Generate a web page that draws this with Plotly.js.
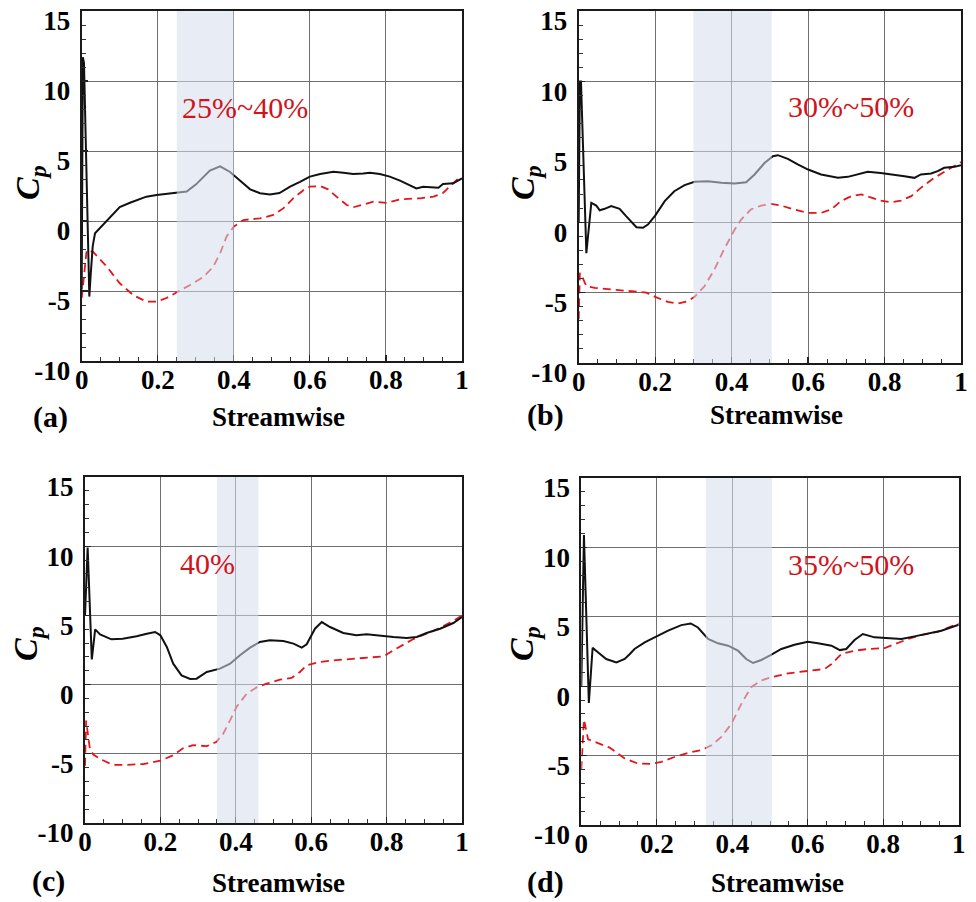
<!DOCTYPE html>
<html>
<head>
<meta charset="utf-8">
<script src="https://cdn.plot.ly/plotly-3.0.1.min.js"></script>
<style>
  html, body { margin: 0; padding: 0; background: #ffffff; }
  #chart { width: 976px; height: 902px; }
</style>
</head>
<body>
<div id="chart"></div>
<script>
// ---- Surface pressure coefficient along the chord, four cases ----

// Case (a)
const pressureX_a = [0, 0.003, 0.006, 0.02, 0.024, 0.029, 0.035, 0.048, 0.075, 0.1, 0.127, 0.17, 0.197, 0.25, 0.276, 0.3, 0.337, 0.364, 0.39, 0.416, 0.443, 0.469, 0.495, 0.52, 0.548, 0.574, 0.6, 0.627, 0.662, 0.688, 0.714, 0.74, 0.758, 0.784, 0.81, 0.837, 0.863, 0.88, 0.898, 0.925, 0.938, 0.95, 0.977, 1.0];
const pressureCp_a = [-4.9, 11.7, 11.3, -5.4, -3.7, -1.8, -0.88, -0.5, 0.31, 1.0, 1.3, 1.74, 1.86, 2.0, 2.1, 2.6, 3.6, 3.9, 3.5, 2.9, 2.26, 1.98, 1.9, 2.0, 2.45, 2.8, 3.17, 3.36, 3.52, 3.45, 3.36, 3.4, 3.45, 3.36, 3.17, 2.88, 2.57, 2.33, 2.45, 2.38, 2.38, 2.64, 2.69, 3.05];
const suctionX_a = [0, 0.013, 0.03, 0.066, 0.1, 0.136, 0.17, 0.197, 0.223, 0.25, 0.285, 0.32, 0.346, 0.364, 0.381, 0.4, 0.425, 0.469, 0.504, 0.53, 0.556, 0.583, 0.6, 0.627, 0.648, 0.67, 0.697, 0.714, 0.74, 0.767, 0.802, 0.837, 0.89, 0.925, 0.95, 0.968, 0.986, 1.0];
const suctionCp_a = [-5.5, -2.1, -2.2, -3.26, -4.45, -5.3, -5.76, -5.76, -5.5, -5.1, -4.57, -4.0, -3.26, -2.3, -1.1, -0.4, 0.07, 0.19, 0.43, 0.9, 1.62, 2.2, 2.45, 2.5, 2.26, 1.74, 1.14, 0.98, 1.2, 1.38, 1.3, 1.55, 1.62, 1.74, 2.0, 2.45, 2.93, 3.15];

// Case (b)
const pressureX_b = [0, 0.003, 0.006, 0.02, 0.033, 0.046, 0.055, 0.068, 0.085, 0.107, 0.124, 0.14, 0.151, 0.168, 0.181, 0.2, 0.225, 0.25, 0.277, 0.303, 0.338, 0.373, 0.408, 0.438, 0.46, 0.486, 0.508, 0.521, 0.547, 0.573, 0.6, 0.634, 0.678, 0.704, 0.73, 0.756, 0.79, 0.826, 0.852, 0.878, 0.895, 0.922, 0.939, 0.956, 0.983, 1.0];
const pressureCp_b = [0, 10.0, 10.0, -2.2, 1.38, 1.18, 0.85, 0.95, 1.14, 0.95, 0.43, -0.05, -0.36, -0.4, -0.17, 0.47, 1.5, 2.2, 2.63, 2.87, 2.91, 2.8, 2.75, 2.84, 3.39, 4.2, 4.69, 4.76, 4.5, 4.1, 3.74, 3.39, 3.15, 3.22, 3.39, 3.58, 3.5, 3.39, 3.27, 3.15, 3.39, 3.46, 3.63, 3.86, 3.93, 4.05];
const suctionX_b = [0, 0.003, 0.008, 0.02, 0.042, 0.094, 0.146, 0.177, 0.2, 0.233, 0.26, 0.286, 0.303, 0.329, 0.355, 0.38, 0.408, 0.425, 0.45, 0.477, 0.503, 0.53, 0.564, 0.6, 0.634, 0.66, 0.686, 0.713, 0.739, 0.765, 0.79, 0.817, 0.843, 0.87, 0.895, 0.93, 0.965, 1.0];
const suctionCp_b = [-6.9, -3.6, -3.8, -4.55, -4.67, -4.79, -4.9, -5.0, -5.3, -5.66, -5.78, -5.6, -5.3, -4.55, -3.36, -1.94, -0.52, 0.19, 0.9, 1.18, 1.3, 1.18, 0.9, 0.66, 0.66, 0.9, 1.5, 1.85, 1.97, 1.73, 1.54, 1.42, 1.54, 1.85, 2.44, 3.15, 3.74, 4.27];

// Case (c)
const pressureX_c = [0, 0.007, 0.018, 0.027, 0.04, 0.07, 0.1, 0.137, 0.164, 0.186, 0.2, 0.217, 0.234, 0.256, 0.279, 0.296, 0.323, 0.358, 0.385, 0.411, 0.438, 0.464, 0.49, 0.526, 0.553, 0.575, 0.588, 0.61, 0.628, 0.65, 0.685, 0.72, 0.747, 0.783, 0.818, 0.853, 0.88, 0.906, 0.942, 0.977, 1.0];
const pressureCp_c = [5.0, 9.9, 1.82, 3.99, 3.63, 3.27, 3.32, 3.49, 3.68, 3.8, 3.56, 2.72, 1.51, 0.67, 0.41, 0.43, 0.91, 1.15, 1.51, 2.12, 2.67, 3.08, 3.2, 3.15, 2.96, 2.67, 2.91, 4.04, 4.52, 4.16, 3.73, 3.56, 3.63, 3.51, 3.44, 3.37, 3.44, 3.73, 4.04, 4.45, 4.88];
const suctionX_c = [0, 0.003, 0.013, 0.022, 0.04, 0.066, 0.08, 0.11, 0.155, 0.2, 0.234, 0.26, 0.287, 0.323, 0.349, 0.367, 0.385, 0.402, 0.429, 0.455, 0.482, 0.517, 0.548, 0.57, 0.588, 0.623, 0.659, 0.712, 0.765, 0.792, 0.818, 0.844, 0.871, 0.906, 0.942, 0.977, 1.0];
const suctionCp_c = [-5.87, -2.6, -4.66, -5.05, -5.38, -5.7, -5.8, -5.8, -5.74, -5.5, -5.1, -4.6, -4.37, -4.45, -4.13, -3.53, -2.57, -1.61, -0.65, -0.2, 0.07, 0.36, 0.48, 0.91, 1.39, 1.63, 1.75, 1.87, 1.95, 2.04, 2.48, 2.9, 3.29, 3.68, 4.11, 4.6, 5.0];

// Case (d)
const pressureX_d = [0, 0.007, 0.02, 0.03, 0.044, 0.058, 0.066, 0.093, 0.115, 0.128, 0.141, 0.168, 0.194, 0.23, 0.265, 0.29, 0.309, 0.336, 0.362, 0.389, 0.415, 0.437, 0.455, 0.477, 0.504, 0.53, 0.565, 0.6, 0.627, 0.663, 0.685, 0.702, 0.724, 0.746, 0.777, 0.813, 0.848, 0.883, 0.919, 0.954, 1.0];
const pressureCp_d = [0, 10.9, -1.2, 2.76, 2.44, 2.15, 1.96, 1.72, 1.96, 2.3, 2.68, 3.16, 3.52, 4.0, 4.4, 4.52, 4.23, 3.4, 3.09, 2.92, 2.56, 1.96, 1.67, 1.89, 2.27, 2.68, 2.99, 3.2, 3.09, 2.92, 2.6, 2.68, 3.33, 3.76, 3.52, 3.44, 3.4, 3.59, 3.8, 4.0, 4.43];
const suctionX_d = [0, 0.007, 0.018, 0.04, 0.075, 0.115, 0.15, 0.186, 0.212, 0.247, 0.283, 0.318, 0.345, 0.371, 0.398, 0.424, 0.45, 0.477, 0.504, 0.548, 0.6, 0.645, 0.663, 0.689, 0.724, 0.76, 0.804, 0.83, 0.866, 0.9, 0.945, 1.0];
const suctionCp_d = [-5.98, -2.4, -3.83, -4.07, -4.42, -5.2, -5.57, -5.6, -5.45, -5.1, -4.8, -4.6, -4.26, -3.66, -2.7, -1.27, -0.07, 0.41, 0.65, 0.93, 1.12, 1.24, 1.6, 2.32, 2.56, 2.68, 2.75, 3.04, 3.4, 3.68, 3.92, 4.52];

// Highlighted chord regions and their labels
const bandStart = [0.25, 0.30, 0.35, 0.33];
const bandEnd   = [0.40, 0.505, 0.46, 0.505];
const bandLabels = ['25%~40%', '30%~50%', '40%', '35%~50%'];
const panelTags = ['(a)', '(b)', '(c)', '(d)'];

// Axis ticks
const xTickVals = [0, 0.2, 0.4, 0.6, 0.8, 1];
const xTickText = ['0', '0.2', '0.4', '0.6', '0.8', '1'];
const yTickVals = [-10, -5, 0, 5, 10, 15];
const yTickText = ['-10', '-5', '0', '5', '10', '15'];

// ---- drawing ----
const W = 976, H = 902;
const SERIF = 'Liberation Serif';
const bold = s => '<b>' + s + '</b>';

const panels = [
  { px: pressureX_a, pc: pressureCp_a, sx: suctionX_a, sc: suctionCp_a,
    xdom: [81.7, 462], ytop: 11, ybot: 361, tag: [50, 417], title: [278, 417], cp: [30, 183], lab: [0.43, 8.1] },
  { px: pressureX_b, pc: pressureCp_b, sx: suctionX_b, sc: suctionCp_b,
    xdom: [578.7, 961], ytop: 11, ybot: 363, tag: [545, 415], title: [776, 415], cp: [525, 183], lab: [0.712, 8.2] },
  { px: pressureX_c, pc: pressureCp_c, sx: suctionX_c, sc: suctionCp_c,
    xdom: [85, 462], ytop: 477, ybot: 823, tag: [48, 881], title: [278, 883], cp: [28, 644], lab: [0.326, 8.75] },
  { px: pressureX_d, pc: pressureCp_d, sx: suctionX_d, sc: suctionCp_d,
    xdom: [581.3, 958.7], ytop: 478, ybot: 825, tag: [545, 882], title: [777, 883], cp: [524, 644], lab: [0.715, 8.8] }
];

const traces = [];
const shapes = [];
const annotations = [];
const layout = {
  width: W, height: H,
  margin: { l: 0, r: 0, t: 0, b: 0 },
  paper_bgcolor: '#ffffff',
  plot_bgcolor: '#ffffff',
  showlegend: false,
  font: { family: SERIF, color: '#000000', size: 26 }
};

panels.forEach((p, i) => {
  const n = i === 0 ? '' : String(i + 1);
  const xa = 'x' + n, ya = 'y' + n;

  traces.push({
    type: 'scatter', mode: 'lines', x: p.sx, y: p.sc, xaxis: xa, yaxis: ya,
    line: { color: '#e3151b', width: 1.8, dash: '8px,5px' }, hoverinfo: 'skip'
  });
  traces.push({
    type: 'scatter', mode: 'lines', x: p.px, y: p.pc, xaxis: xa, yaxis: ya,
    line: { color: '#111111', width: 2 }, hoverinfo: 'skip'
  });

  const common = {
    ticks: 'inside', ticklen: 6, tickwidth: 1.2, tickcolor: '#222222',
    tickfont: { family: SERIF, size: 27, color: '#000000' },
    ticklabeloverflow: 'allow',
    showgrid: true, gridcolor: '#6f6f6f', gridwidth: 1,
    showline: true, linecolor: '#1a1a1a', linewidth: 2, mirror: true,
    zeroline: false, fixedrange: true
  };

  layout['xaxis' + n] = Object.assign({}, common, {
    domain: [p.xdom[0] / W, p.xdom[1] / W],
    anchor: ya, range: [0, 1],
    tickmode: 'array', tickvals: xTickVals, ticktext: xTickText.map(bold),
    ticklabelstandoff: -6,
    minor: { tickmode: 'linear', tick0: 0, dtick: 0.05, ticks: 'inside', ticklen: 4, tickwidth: 1, tickcolor: '#333333', showgrid: false }
  });
  layout['yaxis' + n] = Object.assign({}, common, {
    domain: [1 - p.ybot / H, 1 - p.ytop / H],
    anchor: xa, range: [-10, 15],
    tickmode: 'array', tickvals: yTickVals, ticktext: yTickText.map(bold),
    ticklabelshift: 10, ticklabelstandoff: 4,
    minor: { tickmode: 'linear', tick0: 0, dtick: 1, ticks: 'inside', ticklen: 4, tickwidth: 1, tickcolor: '#333333', showgrid: false }
  });

  // translucent band over the highlighted chord region
  shapes.push({
    type: 'rect', layer: 'above', xref: xa, yref: ya + ' domain',
    x0: bandStart[i], x1: bandEnd[i], y0: 0, y1: 1,
    fillcolor: 'rgba(212,220,236,0.55)', line: { width: 0 }
  });

  annotations.push({
    xref: xa, yref: ya, x: p.lab[0], y: p.lab[1], text: bandLabels[i],
    showarrow: false, xanchor: 'center', yanchor: 'middle',
    font: { family: SERIF, size: 30, color: '#d0141a' }
  });
  annotations.push({
    xref: 'paper', yref: 'paper', x: p.tag[0] / W, y: 1 - p.tag[1] / H, text: bold(panelTags[i]),
    showarrow: false, xanchor: 'center', yanchor: 'middle',
    font: { family: SERIF, size: 30, color: '#000000' }
  });
  annotations.push({
    xref: 'paper', yref: 'paper', x: p.title[0] / W, y: 1 - p.title[1] / H, text: bold('Streamwise'),
    showarrow: false, xanchor: 'center', yanchor: 'middle',
    font: { family: SERIF, size: 27, color: '#000000' }
  });
  annotations.push({
    xref: 'paper', yref: 'paper', x: p.cp[0] / W, y: 1 - p.cp[1] / H,
    text: '<b><i>C</i></b><sub><b><i>p</i></b></sub>', textangle: -90,
    showarrow: false, xanchor: 'center', yanchor: 'middle',
    font: { family: SERIF, size: 34, color: '#000000' }
  });
});

layout.shapes = shapes;
layout.annotations = annotations;

Plotly.newPlot('chart', traces, layout, { displayModeBar: false, staticPlot: true });
</script>
</body>
</html>
